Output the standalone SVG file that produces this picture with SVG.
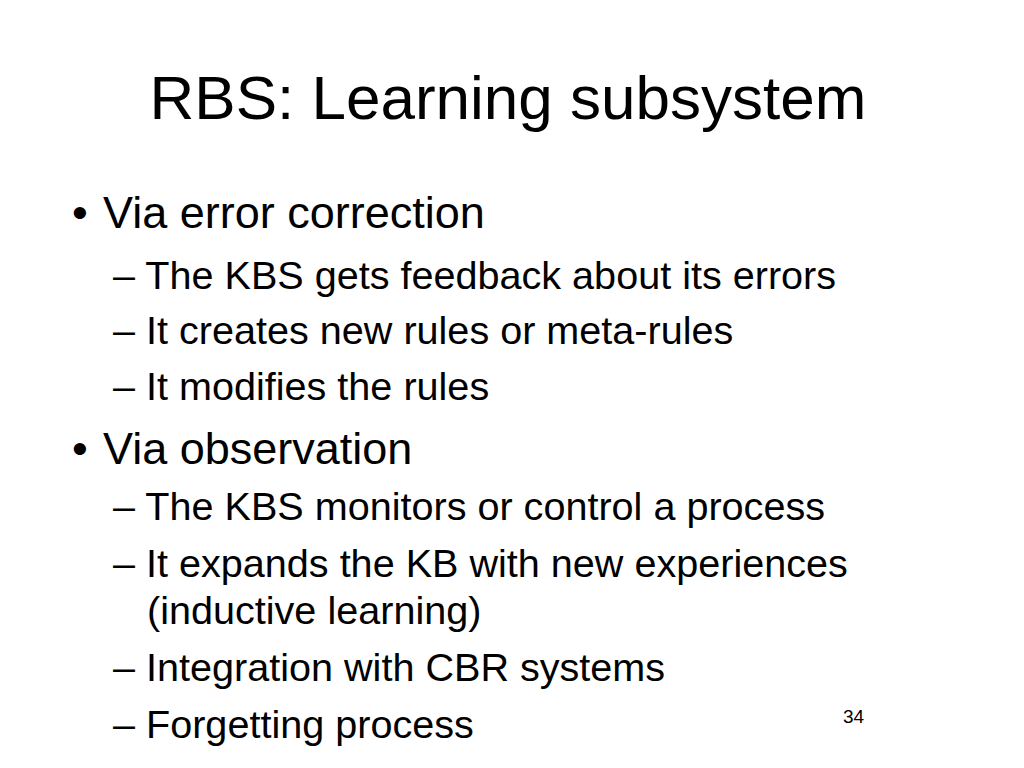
<svg xmlns="http://www.w3.org/2000/svg" width="1024" height="768" viewBox="0 0 1024 768">
<style>
text{font-family:"Liberation Sans",Arial,sans-serif;fill:#000}
.t{font-size:62px}
.b{font-size:45px}
.s{font-size:39.6px}
.n{font-size:19px}
</style>
<rect width="1024" height="768" fill="#fff"/>
<g id="title"><text class="t" x="508" y="119" text-anchor="middle">RBS: Learning subsystem</text></g>
<g id="bullet1">
<text class="b" x="72" y="228">•</text>
<text class="b" x="103" y="228">Via error correction</text>
</g>
<g id="sub1">
<text class="s" x="113" y="289">– The KBS gets feedback about its errors</text>
<text class="s" x="113" y="344">– It creates new rules or meta-rules</text>
<text class="s" x="113" y="400">– It modifies the rules</text>
</g>
<g id="bullet2">
<text class="b" x="72" y="464">•</text>
<text class="b" x="103" y="464">Via observation</text>
</g>
<g id="sub2">
<text class="s" x="113" y="520">– The KBS monitors or control a process</text>
<text class="s" x="113" y="577">– It expands the KB with new experiences</text>
<text class="s" x="147" y="624">(inductive learning)</text>
<text class="s" x="113" y="681">– Integration with CBR systems</text>
<text class="s" x="113" y="738">– Forgetting process</text>
</g>
<g id="page"><text class="n" x="843" y="723">34</text></g>
</svg>
